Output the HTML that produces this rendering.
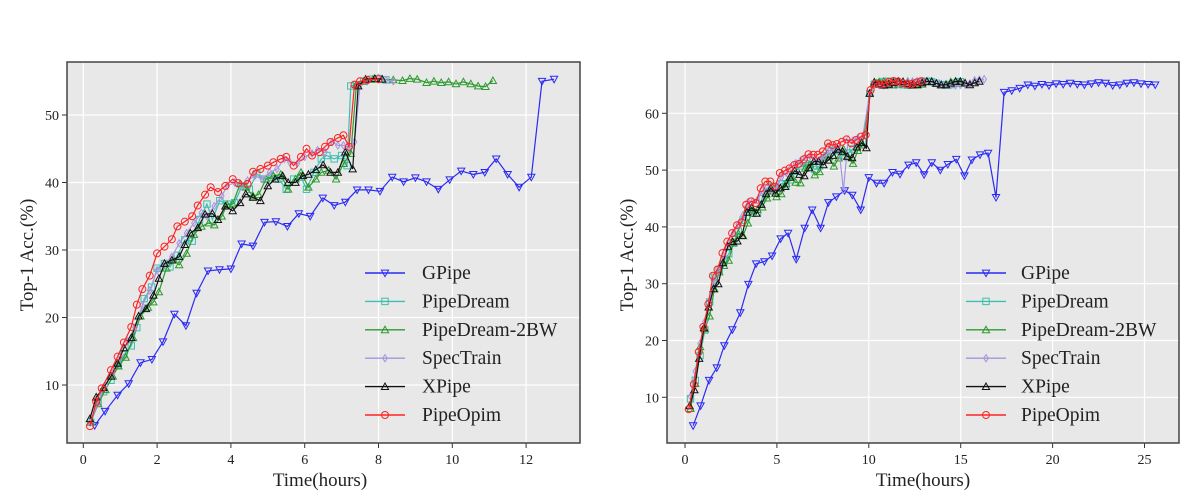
<!DOCTYPE html>
<html><head><meta charset="utf-8"><style>
html,body{margin:0;padding:0;background:#fff;width:1200px;height:500px;overflow:hidden}
svg text{font-family:"Liberation Serif",serif;fill:#222}
</style></head><body>
<svg id="s" width="1200" height="500" xmlns="http://www.w3.org/2000/svg"></svg>
<script>
var S=document.getElementById('s'),out='';
function P(a){return a.map(function(p){return p[0].toFixed(1)+','+p[1].toFixed(1)}).join(' ')}
var COL={g:'#2a2af5',pd:'#3cbfb0',bw:'#2e9a2e',st:'#a795e0',x:'#111',po:'#f22'};
function marker(t,x,y,c){
 var r=3.6;
 if(t=='g')return '<polygon points="'+P([[x-r,y-r*0.8],[x+r,y-r*0.8],[x,y+r]])+'" fill="none" stroke="'+c+'" stroke-width="1"/>';
 if(t=='pd')return '<rect x="'+(x-3.2)+'" y="'+(y-3.2)+'" width="6.4" height="6.4" fill="none" stroke="'+c+'" stroke-width="1"/>';
 if(t=='bw'||t=='x')return '<polygon points="'+P([[x-r,y+r*0.8],[x+r,y+r*0.8],[x,y-r]])+'" fill="none" stroke="'+c+'" stroke-width="1"/>';
 if(t=='st')return '<polygon points="'+P([[x,y-r],[x+2.3,y],[x,y+r],[x-2.3,y]])+'" fill="none" stroke="'+c+'" stroke-width="1"/>';
 return '<circle cx="'+x+'" cy="'+y+'" r="3.5" fill="none" stroke="'+c+'" stroke-width="1"/>';
}
function series(t,pts,fx,fy){
 var c=COL[t],q=pts.map(function(p){return [fx(p[0]),fy(p[1])]});
 var s='<polyline points="'+P(q)+'" fill="none" stroke="'+c+'" stroke-width="1.2"/>';
 q.forEach(function(p){s+=marker(t,p[0],p[1],c)});
 return s;
}
function pairs(a){var r=[];for(var i=0;i<a.length;i+=2)r.push([a[i],a[i+1]]);return r}
function frame(x0,y0,x1,y1,xt,fx,yt,fy){
 var s='<rect x="'+x0+'" y="'+y0+'" width="'+(x1-x0)+'" height="'+(y1-y0)+'" fill="#e8e8e8"/>';
 xt.forEach(function(v){var x=fx(v);s+='<line x1="'+x+'" x2="'+x+'" y1="'+y0+'" y2="'+y1+'" stroke="#fff" stroke-width="1.2"/><line x1="'+x+'" x2="'+x+'" y1="'+y1+'" y2="'+(y1+5)+'" stroke="#333"/><text x="'+x+'" y="'+(y1+21)+'" font-size="14" text-anchor="middle">'+v+'</text>'});
 yt.forEach(function(v){var y=fy(v);s+='<line y1="'+y+'" y2="'+y+'" x1="'+x0+'" x2="'+x1+'" stroke="#fff" stroke-width="1.2"/><line y1="'+y+'" y2="'+y+'" x1="'+(x0-5)+'" x2="'+x0+'" stroke="#333"/><text x="'+(x0-8)+'" y="'+(y+5)+'" font-size="14" text-anchor="end">'+v+'</text>'});
 return s;
}
function border(x0,y0,x1,y1){return '<rect x="'+x0+'" y="'+y0+'" width="'+(x1-x0)+'" height="'+(y1-y0)+'" fill="none" stroke="#444" stroke-width="1.5"/>'}
function legend(lx,tx,y0){
 var names=[['g','GPipe'],['pd','PipeDream'],['bw','PipeDream-2BW'],['st','SpecTrain'],['x','XPipe'],['po','PipeOpim']],s='';
 names.forEach(function(n,i){var y=y0+i*28.4;s+='<line x1="'+lx+'" x2="'+(lx+40)+'" y1="'+y+'" y2="'+y+'" stroke="'+COL[n[0]]+'" stroke-width="1.4"/>'+marker(n[0],lx+20,y,COL[n[0]])+'<text x="'+tx+'" y="'+(y+6)+'" font-size="19.5">'+n[1]+'</text>'});
 return s;
}
/* LEFT */
var lfx=function(v){return 83.3+v*36.9},lfy=function(v){return 385-(v-10)*6.75};
out+=frame(67,62,580,443,[0,2,4,6,8,10,12],lfx,[10,20,30,40,50],lfy);
var L={};
L.g=pairs([0.31,4.0,0.59,6.1,0.93,8.5,1.23,10.2,1.55,13.3,1.86,13.8,2.16,16.4,2.47,20.5,2.78,18.8,3.07,23.6,3.38,26.9,3.69,27.1,4.0,27.2,4.29,30.9,4.6,30.6,4.91,34.1,5.22,34.2,5.53,33.5,5.84,35.4,6.15,35.0,6.49,37.7,6.8,36.6,7.1,37.1,7.42,38.9,7.73,38.9,8.04,38.7,8.37,40.8,8.68,40.1,9.0,40.7,9.3,40.1,9.62,39.0,9.93,40.4,10.24,41.7,10.57,41.2,10.88,41.5,11.19,43.5,11.5,41.2,11.81,39.3,12.14,40.8,12.43,55.0,12.76,55.3]);
L.bw=pairs([0.2,4.5,0.4,7.2,0.6,9.3,0.8,11.3,0.95,12.8,1.15,14.1,1.35,17,1.55,20.2,1.75,21.5,1.9,22.3,2.05,23.8,2.25,27.3,2.45,28.5,2.6,27.8,2.8,29.5,3.0,32.3,3.2,33.5,3.4,34,3.55,33.7,3.75,35,3.9,36.7,4.05,36.8,4.25,39.8,4.4,39.3,4.6,38,4.75,38.2,4.95,40.5,5.15,41,5.35,41.2,5.55,39,5.75,40.5,5.9,41.5,6.1,39.3,6.3,40.5,6.45,41.5,6.65,41.8,6.85,40.5,7.05,42.8,7.25,44.3,7.4,54.5,7.6,55,7.85,55.3,8.1,55.3,8.4,55.2,8.65,55.1,8.85,55.4,9.05,55.3,9.3,54.8,9.5,55,9.7,54.8,9.9,54.9,10.1,54.6,10.3,54.9,10.5,54.6,10.7,54.3,10.9,54.2,11.1,55.1]);
L.pd=pairs([0.2,4.5,0.4,7.5,0.55,9,0.75,10.7,0.95,13,1.1,14.5,1.3,15.8,1.45,18.5,1.65,22.8,1.85,24.5,2.0,27.3,2.2,28,2.35,27.5,2.55,29.2,2.75,31.5,2.95,31.3,3.15,34.5,3.35,36.8,3.5,34.5,3.7,37.3,3.9,36.8,4.1,37,4.3,39.5,4.5,39,4.7,41.3,4.9,40.5,5.1,40.8,5.3,40.5,5.5,39,5.7,40.5,5.9,40.8,6.05,39,6.25,41.5,6.45,43.5,6.6,44,6.8,43.5,7.0,44,7.15,42.5,7.25,54.3,7.4,54.5,7.6,55,7.8,55.3,8.0,55.4,8.2,55.2]);
L.st=pairs([0.2,4.5,0.4,7.5,0.6,10,0.8,11.8,1.0,14.3,1.2,16.5,1.4,18.5,1.6,21.8,1.8,24,2.0,27,2.2,28,2.4,29,2.6,31,2.8,32.5,3.0,34,3.2,35.5,3.35,35,3.55,36.5,3.75,38,3.9,39.5,4.1,40,4.3,39.5,4.45,40.3,4.65,41,4.85,40.5,5.05,41.5,5.25,42,5.45,43.5,5.6,43,5.8,42.8,6.0,43.8,6.2,44.3,6.35,44.8,6.55,44.5,6.75,46,6.9,45.5,7.05,45.5,7.2,45.2,7.35,46,7.5,54.5,7.7,55,8.0,55.5,8.2,55.2,8.4,55]);
L.x=pairs([0.18,5,0.35,8.2,0.55,9.6,0.75,11.3,0.93,13.2,1.1,15.5,1.3,17,1.5,20.2,1.7,21.3,1.9,23.3,2.05,25.8,2.2,28,2.4,28.5,2.6,29,2.75,30.8,2.9,32.5,3.1,33.3,3.3,35.3,3.5,35.4,3.65,34.5,3.85,36.5,4.05,35.8,4.25,37,4.4,38.3,4.6,37.8,4.8,37.3,5.0,39.5,5.2,40.5,5.4,41,5.55,40,5.75,40,5.95,41,6.1,41.2,6.3,41.9,6.5,42.6,6.7,41.5,6.9,41.5,7.1,44.5,7.3,42,7.45,54.3,7.65,55.3,7.9,55.4,8.1,55.3]);
L.po=pairs([0.18,3.9,0.35,7.5,0.5,9.5,0.75,12.2,0.93,14.2,1.1,16.3,1.3,18.6,1.45,21.9,1.6,24.2,1.8,26.2,2.0,29.5,2.2,30.5,2.4,31.6,2.55,33.5,2.75,34.2,2.95,35,3.1,36.6,3.3,38.2,3.45,39.3,3.65,38.6,3.85,39.5,4.05,40.5,4.2,39.9,4.45,39.8,4.6,41.6,4.8,42,5.0,42.5,5.15,43,5.35,43.5,5.5,43.8,5.7,42.5,5.9,43.8,6.05,45,6.2,44,6.4,44.5,6.55,45.3,6.7,46,6.9,46.6,7.05,47,7.2,45.3,7.35,54.5,7.5,55,7.7,55.2,8.0,55.3]);
['g','pd','bw','st','x','po'].forEach(function(k){out+=series(k,L[k],lfx,lfy)});
out+=border(67,62,580,443);
out+=legend(365,422,273);
out+='<text x="320" y="486" font-size="19" text-anchor="middle">Time(hours)</text>';
out+='<text transform="translate(33,255) rotate(-90)" font-size="19" text-anchor="middle">Top-1 Acc.(%)</text>';
/* RIGHT */
var rfx=function(v){return 685+v*18.38},rfy=function(v){return 397.3-(v-10)*5.68};
out+=frame(667,62,1179,443,[0,5,10,15,20,25],rfx,[10,20,30,40,50,60],rfy);
var R={};
var g=[0.44,5.0,0.85,8.5,1.31,13.0,1.73,15.2,2.14,19.1,2.58,21.9,3.01,24.9,3.45,29.9,3.87,33.5,4.32,33.9,4.74,34.9,5.2,37.9,5.61,38.9,6.05,34.3,6.51,39.8,6.92,43.0,7.38,39.8,7.8,44.3,8.23,45.3,8.69,46.4,9.1,45.6,9.56,43.0,10.0,48.7,10.42,47.7,10.83,47.7,11.29,49.6,11.7,49.3,12.16,50.9,12.58,51.3,13.01,49.2,13.43,51.3,13.89,50.0,14.3,51.0,14.76,51.9,15.2,49.0,15.61,51.8,16.05,52.7,16.49,53.0,16.92,45.2,17.36,63.7,17.78,64.0,18.21,64.4];
var gv=[65,64.8,65.1,64.9,65.2,65.1,65.3,65.1,65.0,65.2,65.4,65.3,64.9,65.0,65.3,65.4,65.2,65.1,65.0];
for(var i=0;i<gv.length;i++){g.push(18.65+i*0.385,gv[i])}
R.g=pairs(g);
var red=pairs([0.2,7.9,0.48,12.3,0.75,18,1.0,22.4,1.27,26.4,1.52,31.4,1.77,32.5,2.04,35.4,2.3,37.4,2.56,38.9,2.83,40.3,3.08,40.8,3.33,43.9,3.6,44.5,3.85,44.2,4.12,46.8,4.37,48.0,4.64,48.0,4.9,47.1,5.16,49.5,5.43,49.9,5.68,50.3,5.95,50.9,6.2,51.1,6.47,51.9,6.72,52.8,6.99,52.7,7.23,52.7,7.5,53.3,7.78,54.7,8.02,54.4,8.27,54.6,8.54,55.0,8.79,55.4,9.06,54.7,9.31,55.3,9.58,55.9,9.83,56.2]);
function interp(t){for(var i=0;i<red.length-1;i++){if(t<=red[i+1][0]){var a=red[i],b=red[i+1];return a[1]+(b[1]-a[1])*(t-a[0])/(b[0]-a[0])}}return red[red.length-1][1]}
function mk(off,seed,t0,tend,amp,dip){
 var p=[];for(var t=t0;t<9.9;t+=0.26){var v=interp(t)-off*Math.min(1,t/1.5)+amp*Math.sin(t*seed*3.1+seed);if(dip&&Math.abs(t-dip)<0.14)v=46.5;p.push([t,v])}
 p.push([10.05,63.5]);
 for(var t=10.3;t<=tend;t+=0.26){p.push([t,65.3+0.35*Math.sin(t*seed*2.3)+(t>15.5?0.4:0)])}
 return p;
}
R.pd=mk(1.6,1.3,0.3,15.0,1.0,0);
R.bw=mk(2.6,2.1,0.3,15.0,1.2,0);
R.st=mk(0.5,0.7,0.3,16.5,0.8,8.7);
R.x=mk(2.0,1.7,0.25,16.2,1.0,0);
var rr=red.slice();rr.push([10.1,64.1]);for(var t=10.35;t<=12.9;t+=0.25)rr.push([t,65.4+0.3*Math.sin(t*4)]);
R.po=rr;
['g','pd','bw','st','x','po'].forEach(function(k){out+=series(k,R[k],rfx,rfy)});
out+=border(667,62,1179,443);
out+=legend(966,1021,273);
out+='<text x="923" y="486" font-size="19" text-anchor="middle">Time(hours)</text>';
out+='<text transform="translate(633,255) rotate(-90)" font-size="19" text-anchor="middle">Top-1 Acc.(%)</text>';
S.innerHTML=out;
</script>
</body></html>
